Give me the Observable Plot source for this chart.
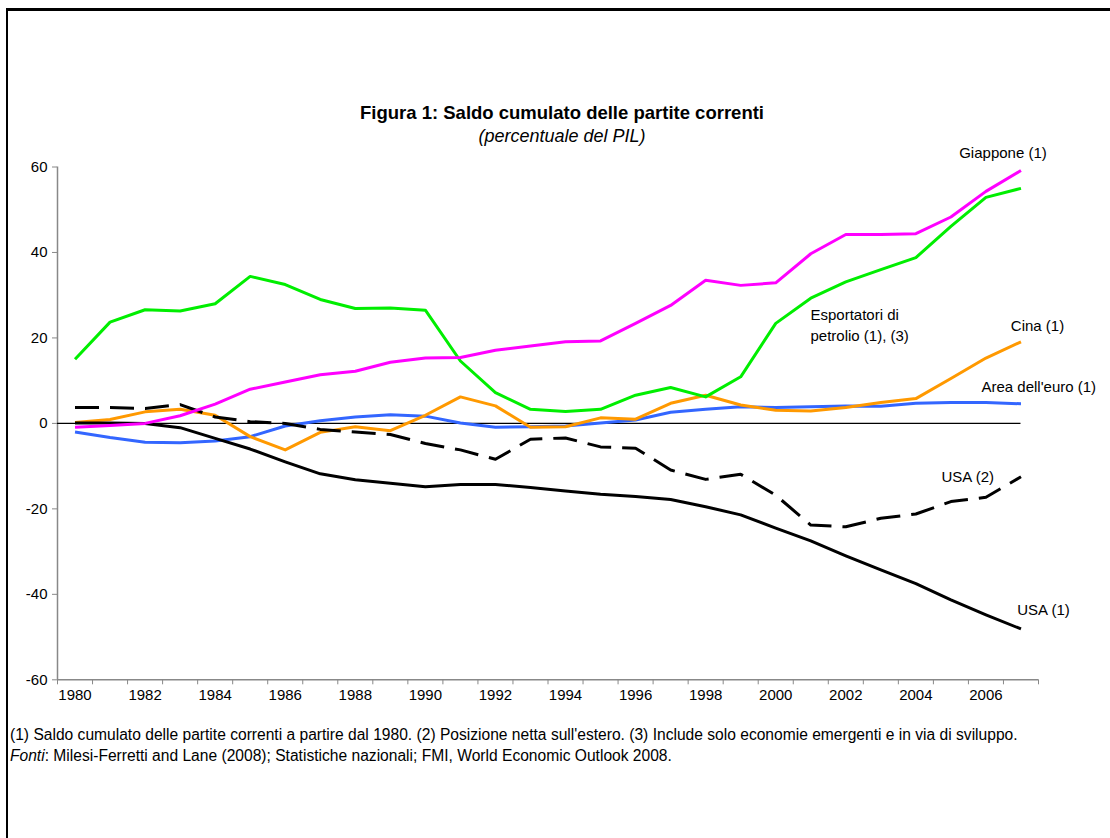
<!DOCTYPE html>
<html>
<head>
<meta charset="utf-8">
<script src="https://cdn.jsdelivr.net/npm/d3@7"></script>
<script src="https://cdn.jsdelivr.net/npm/@observablehq/plot@0.6"></script>
<style>
  html, body { margin: 0; padding: 0; background: #fff; }
  body { width: 1110px; height: 838px; position: relative; overflow: hidden; font-family: "Liberation Sans", Arial, sans-serif; }
  #frame { position: absolute; left: 6px; top: 8px; width: 1200px; height: 900px; border-top: 3px solid #000; border-left: 2.5px solid #000; }
  #chart { position: absolute; left: 0; top: 0; }
  .title { position: absolute; left: 0; width: 1124px; text-align: center; color: #000; line-height: 1.15; }
  #t1 { top: 102px; font-weight: bold; font-size: 18.5px; }
  #t2 { top: 125.5px; font-style: italic; font-size: 18px; }
  .note { position: absolute; left: 10px; font-size: 15.6px; color: #000; white-space: nowrap; line-height: 1.15; }
  #n1 { top: 726px; }
  #n2 { top: 747px; }
</style>
</head>
<body>
<div id="frame"></div>
<div id="chart"></div>
<div class="title" id="t1">Figura 1: Saldo cumulato delle partite correnti</div>
<div class="title" id="t2">(percentuale del PIL)</div>
<div class="note" id="n1">(1) Saldo cumulato delle partite correnti a partire dal 1980. (2) Posizione netta sull'estero. (3) Include solo economie emergenti e in via di sviluppo.</div>
<div class="note" id="n2"><i>Fonti</i>: Milesi-Ferretti and Lane (2008); Statistiche nazionali; FMI, World Economic Outlook 2008.</div>
<script>
const years = d3.range(1980, 2008);
const yTicks = [-60, -40, -20, 0, 20, 40, 60];
const xLabelYears = d3.range(1980, 2008, 2);

const giappone = [-0.9, -0.5, 0.0, 1.8, 4.5, 8.0, 9.7, 11.4, 12.2, 14.3, 15.3, 15.4, 17.1, 18.1, 19.1, 19.3, 23.4, 27.6, 33.5, 32.3, 32.9, 39.7, 44.2, 44.2, 44.4, 48.3, 54.3, 59.2];
const petrolio = [15.0, 23.7, 26.6, 26.3, 28.0, 34.4, 32.5, 29.0, 26.9, 27.0, 26.5, 14.6, 7.2, 3.3, 2.8, 3.3, 6.6, 8.4, 6.2, 10.9, 23.4, 29.3, 33.1, 36.0, 38.8, 46.1, 52.9, 55.0];
const cina = [0.2, 0.9, 2.7, 3.3, 1.9, -3.1, -6.2, -2.1, -0.8, -1.7, 1.9, 6.2, 4.1, -0.9, -0.8, 1.3, 1.0, 4.7, 6.6, 4.3, 3.1, 2.9, 3.7, 4.9, 5.8, 10.5, 15.3, 19.1];
const euro = [-2.0, -3.3, -4.4, -4.5, -4.1, -3.1, -0.6, 0.6, 1.5, 2.0, 1.7, 0.1, -0.9, -0.8, -0.6, 0.1, 0.8, 2.6, 3.3, 3.9, 3.7, 3.9, 4.1, 4.0, 4.7, 4.9, 4.9, 4.6];
const usa1 = [0.1, 0.1, 0.0, -1.0, -3.5, -6.0, -9.0, -11.8, -13.2, -14.0, -14.8, -14.3, -14.3, -15.0, -15.8, -16.6, -17.1, -17.8, -19.5, -21.4, -24.5, -27.5, -31.0, -34.3, -37.5, -41.3, -44.8, -48.1];
const usa2 = [3.7, 3.7, 3.5, 4.4, 1.5, 0.4, 0.0, -1.4, -2.0, -2.6, -4.7, -6.2, -8.4, -3.7, -3.4, -5.5, -5.8, -10.9, -13.1, -11.9, -16.8, -23.8, -24.2, -22.2, -21.2, -18.3, -17.3, -12.5];

const seriesNames = ["Giappone (1)", "Esportatori di\npetrolio (1), (3)", "Cina (1)", "Area dell'euro (1)", "USA (2)", "USA (1)"];
const seriesValues = [giappone, petrolio, cina, euro, usa2, usa1];

const toRows = (vals) => vals.map((v, i) => ({year: years[i], value: v}));
const last = (vals) => [{year: years[years.length - 1], value: vals[vals.length - 1]}];

const font = "Liberation Sans, Arial, sans-serif";
const lw = 3;

const style = {
  "Giappone (1)": {stroke: "#ff00ff", dx: -18, dy: -19, anchor: "middle"},
  "Esportatori di\npetrolio (1), (3)": {stroke: "#00ee00", dx: -210.5, dy: 135, anchor: "start"},
  "Cina (1)": {stroke: "#ff9900", dx: 16.5, dy: -17.5, anchor: "middle"},
  "Area dell'euro (1)": {stroke: "#3366ff", dx: -39.5, dy: -18.6, anchor: "start"},
  "USA (2)": {stroke: "#000000", dx: -79.5, dy: -2, anchor: "start", dash: "24,11"},
  "USA (1)": {stroke: "#000000", dx: 22.5, dy: -20.5, anchor: "middle"}
};

const marks = [
  Plot.ruleX([1979.5], {y1: -60, y2: 60, stroke: "#888", strokeWidth: 1.5}),
  Plot.ruleY([-60], {x1: 1979.5, x2: 2007.5, stroke: "#888", strokeWidth: 1.5}),
  Plot.axisY(yTicks, {label: null, tickSize: 5, tickPadding: 5, tickFormat: d => String(d), stroke: "#888", fill: "#000", fontSize: 15, fontFamily: font}),
  Plot.axisX(d3.range(1979.5, 2008.5, 1), {label: null, tickSize: 5, tickFormat: () => "", stroke: "#888"}),
  Plot.axisX(xLabelYears, {label: null, tickSize: 0, tickPadding: 10, tickFormat: d => String(d), fill: "#000", fontSize: 15, fontFamily: font}),
  Plot.ruleY([0], {x1: 1979.5, x2: years[years.length - 1], stroke: "#000", strokeWidth: 1.2})
];

const order = [3, 2, 5, 4, 1, 0];
for (const k of order) {
  const name = seriesNames[k];
  const s = style[name];
  marks.push(Plot.line(toRows(seriesValues[k]), {x: "year", y: "value", stroke: s.stroke, strokeWidth: lw, strokeDasharray: s.dash, strokeLinejoin: "round", strokeLinecap: "butt"}));
}
for (let k = 0; k < seriesNames.length; k++) {
  const name = seriesNames[k];
  const s = style[name];
  marks.push(Plot.text(last(seriesValues[k]), {x: "year", y: "value", text: () => name, dx: s.dx, dy: s.dy, textAnchor: s.anchor, fill: "#000", fontSize: 15, fontFamily: font, lineHeight: 1.4}));
}

const chart = Plot.plot({
  width: 1110,
  height: 720,
  marginLeft: 57,
  marginRight: 72,
  marginTop: 166.5,
  marginBottom: 40.7,
  x: {domain: [1979.5, 2007.5], axis: null},
  y: {domain: [-60, 60], axis: null},
  style: {fontFamily: font, background: "transparent", overflow: "visible"},
  marks
});
document.getElementById("chart").appendChild(chart);
</script>
</body>
</html>
